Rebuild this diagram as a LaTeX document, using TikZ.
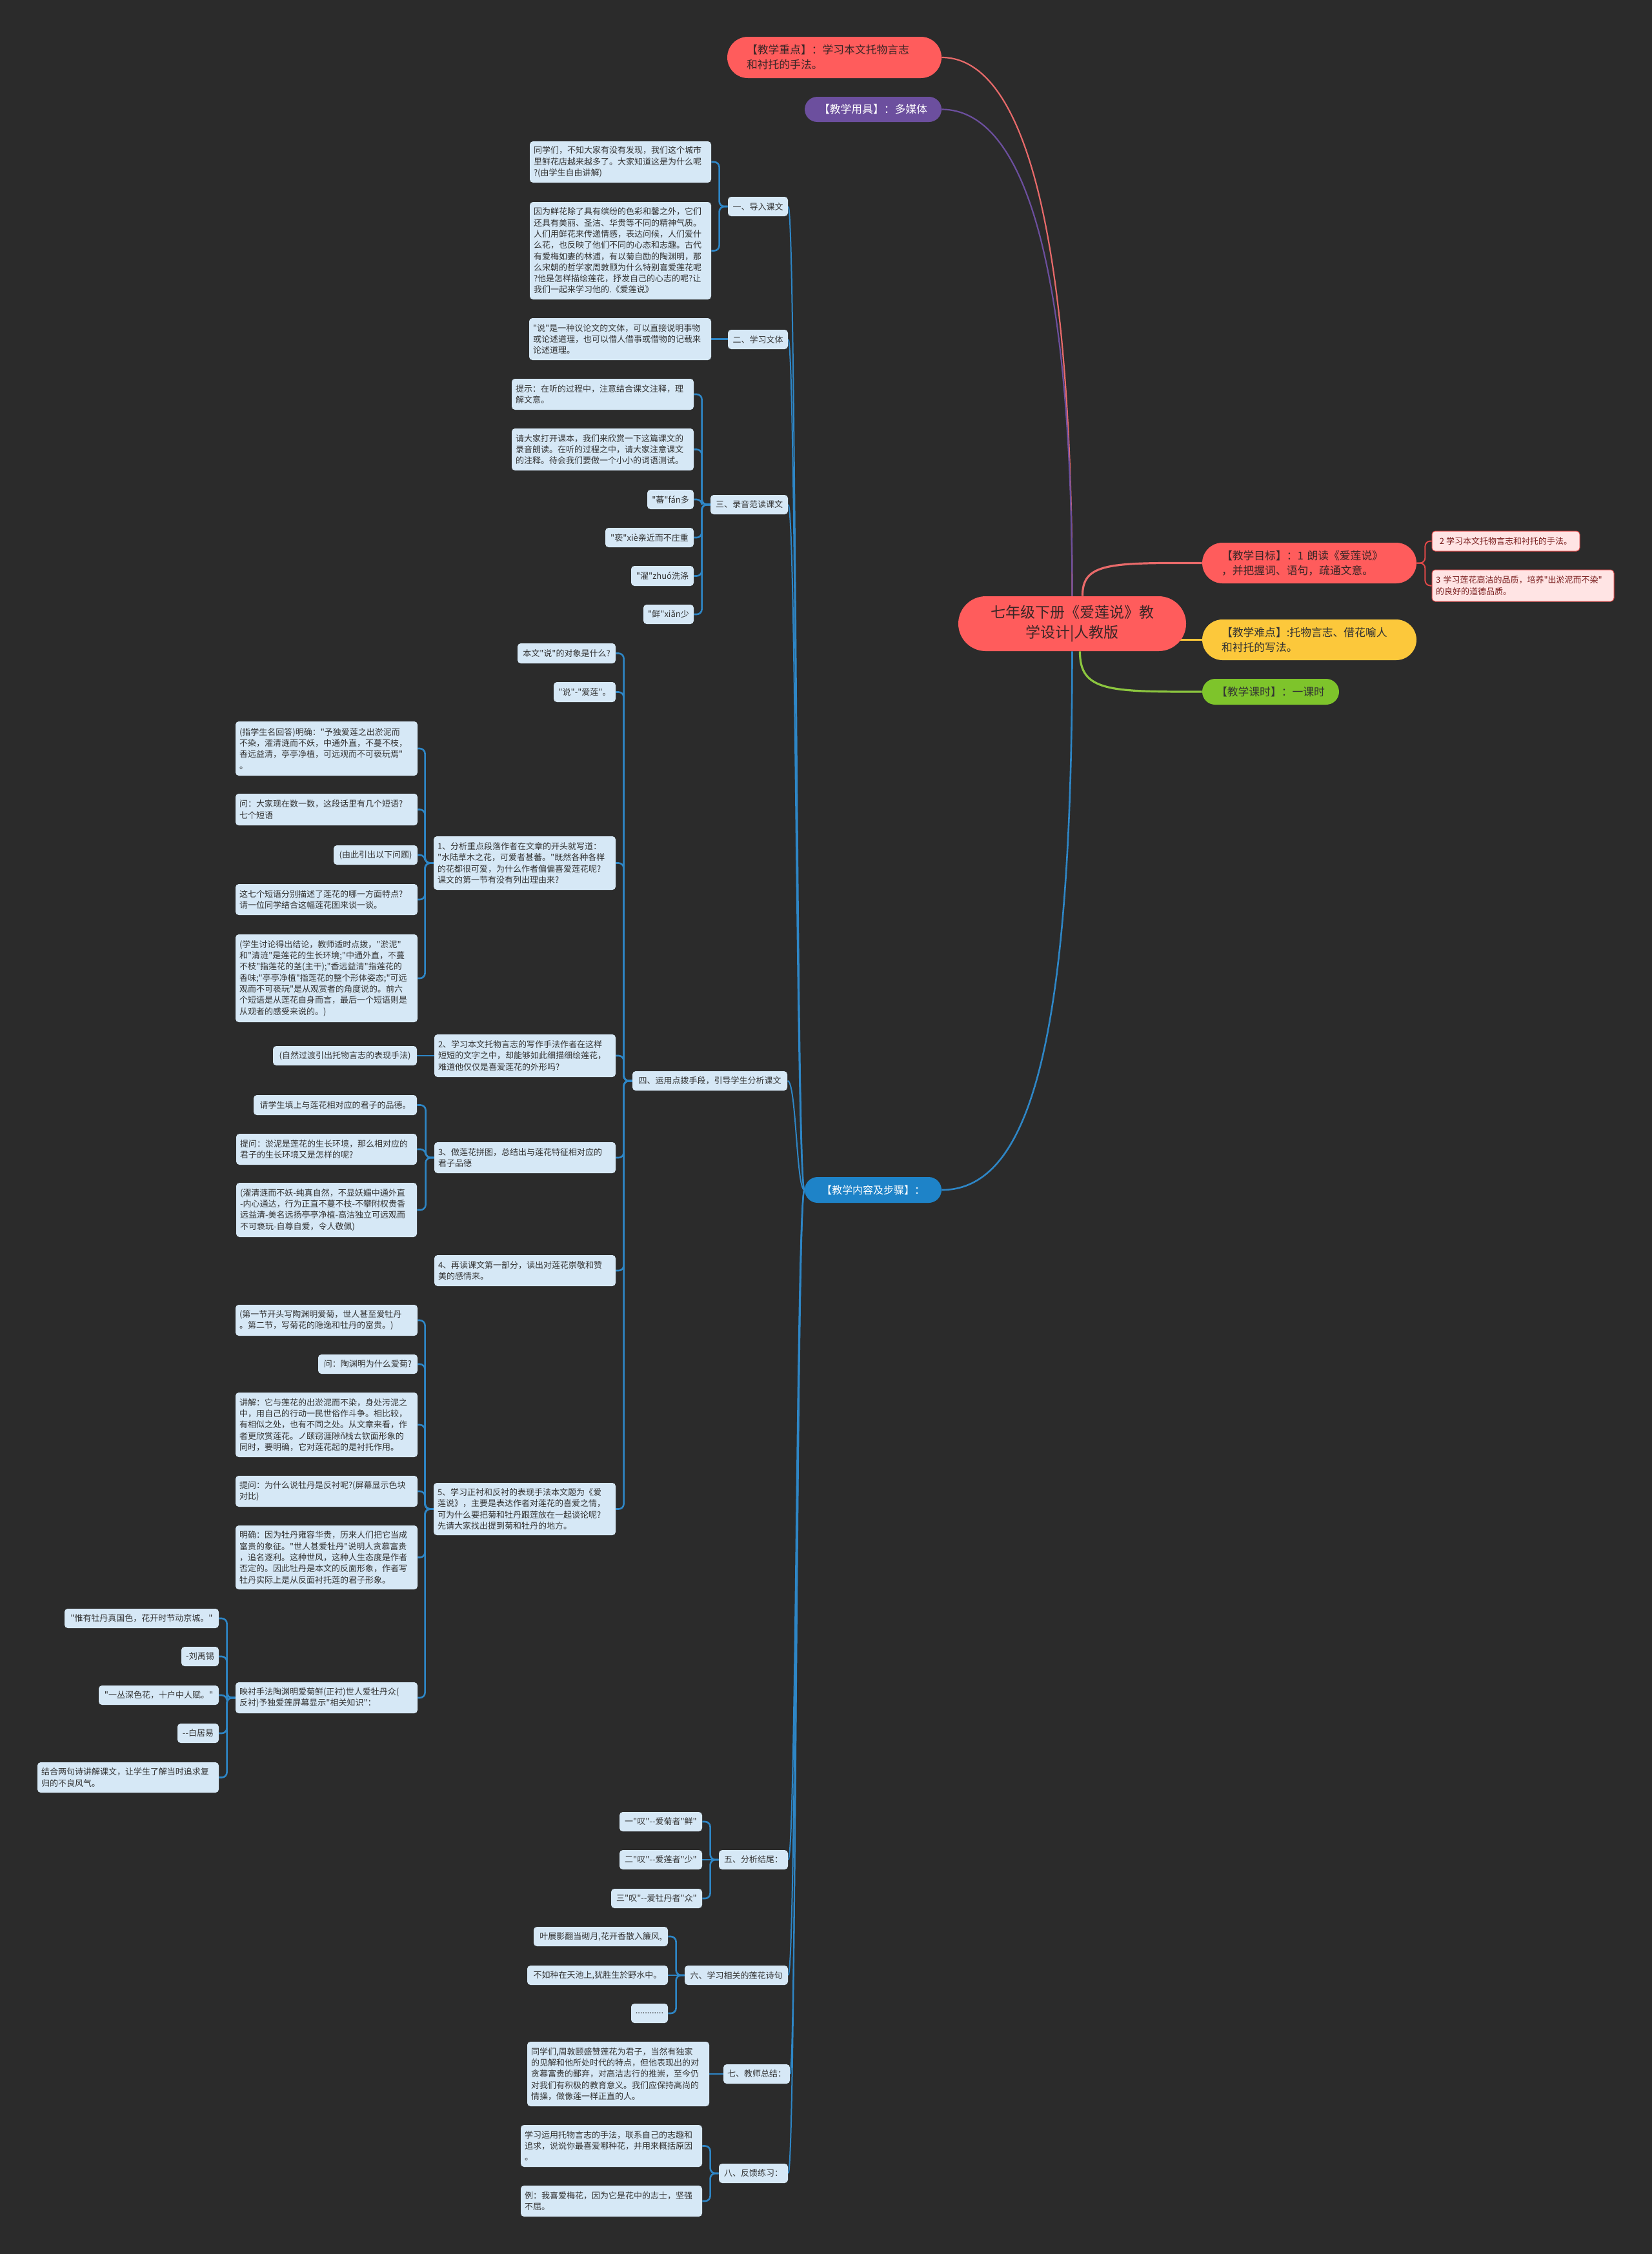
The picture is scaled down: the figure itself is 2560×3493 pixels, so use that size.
\documentclass[tikz,border=0pt]{standalone}
\usepackage{fontspec}
\setmainfont{Noto Sans CJK SC}[Ligatures=TeXOff]
\pgfdeclarelayer{bgl}
\pgfdeclarelayer{lines}
\pgfsetlayers{bgl,lines,main}
\definecolor{bgc}{HTML}{2B2B2B}
\definecolor{lnk}{HTML}{2E86C6}
\definecolor{lbox}{HTML}{D6E8F6}
\definecolor{ltext}{HTML}{333333}
\definecolor{rtxt}{HTML}{3A2626}
\definecolor{redn}{HTML}{FF5C5C}
\definecolor{redl}{HTML}{E86A6A}
\definecolor{purn}{HTML}{6C4F9E}
\definecolor{yeln}{HTML}{FCC83B}
\definecolor{grnn}{HTML}{7EC42B}
\definecolor{grnl}{HTML}{8CC63F}
\definecolor{blun}{HTML}{1E83C8}
\definecolor{pinkn}{HTML}{FFE4E4}
\definecolor{pinkd}{HTML}{E04848}
\definecolor{pinkt}{HTML}{7A1E1E}
\tikzset{
  box/.style={fill=lbox,text=ltext,rounded corners=2.5pt,inner xsep=3pt,inner ysep=0pt,align=left,font=\fontsize{6.5}{8.65}\selectfont},
  pinkbox/.style={fill=pinkn,draw=pinkd,line width=0.5pt,text=pinkt},
  lk/.style={draw=lnk,line width=1.3pt,rounded corners=4pt},
  tkl/.style={draw=lnk,line width=1pt},
  mainfont/.style={font=\fontsize{8.4}{11.5}\selectfont}
}
\newcommand{\lbx}[7][]{%
  \pgfmathsetmacro{\bxw}{(#5-#3)/2}%
  \pgfmathsetmacro{\bxh}{(#6-#4)/2}%
  \pgfmathsetmacro{\bxt}{(#5-#3)/2-6}%
  \node[box,minimum width=\bxw pt,minimum height=\bxh pt,text width=\bxt pt,#1] (#2) at ({(#3+#5)/2},{(#4+#6)/2}) {#7};}
\newcommand{\sbx}[7][]{%
  \pgfmathsetmacro{\bxw}{(#5-#3)/2}%
  \pgfmathsetmacro{\bxh}{(#6-#4)/2}%
  \node[box,minimum width=\bxw pt,minimum height=\bxh pt,#1] (#2) at ({(#3+#5)/2},{(#4+#6)/2}) {#7};}
\newcommand{\mbx}[8][]{%
  \pgfmathsetmacro{\bxw}{(#5-#3)/2}%
  \pgfmathsetmacro{\bxh}{(#6-#4)/2}%
  \pgfmathsetmacro{\bxt}{(#5-#3)/2-2*#7}%
  \pgfmathsetmacro{\bxr}{(#6-#4)/4}%
  \node[minimum width=\bxw pt,minimum height=\bxh pt,text width=\bxt pt,inner xsep=#7pt,inner ysep=0pt,rounded corners=\bxr pt,#1] (#2) at ({(#3+#5)/2},{(#4+#6)/2}) {#8};}
\newcommand{\lkb}[2]{\draw[lk] (#2.east) -| ([xshift=-6.5pt]#1.west) -- (#1.west);}
\begin{document}
\begin{tikzpicture}[x=0.5pt,y=-0.5pt]
\begin{pgfonlayer}{bgl}
\fill[bgc] (0,0) rectangle (2560,3493);
\end{pgfonlayer}
\useasboundingbox (0,0) rectangle (2560,3493);

% main nodes
\mbx[fill=redn,text=rtxt,align=left,mainfont]{zd}{1127}{57}{1459}{121}{15}{【教学重点】：学习本文托物言志\\和衬托的手法。}
\mbx[fill=purn,text=white,align=center,mainfont]{yj}{1247}{150}{1459}{189}{6}{【教学用具】：多媒体}
\mbx[fill=redn,text=rtxt,align=center,font=\fontsize{11.5}{15.5}\selectfont]{root}{1485}{924}{1838}{1009}{10}{七年级下册《爱莲说》教\\学设计|人教版}
\mbx[fill=redn,text=rtxt,align=left,mainfont]{mb}{1863}{841}{2195}{904}{15}{【教学目标】：1 朗读《爱莲说》\\，并把握词、语句，疏通文意。}
\mbx[fill=yeln,text=ltext,align=left,mainfont]{nd}{1863}{960}{2195}{1023}{15}{【教学难点】:托物言志、借花喻人\\和衬托的写法。}
\mbx[fill=grnn,text=ltext,align=center,mainfont]{ks}{1863}{1052}{2075}{1092}{6}{【教学课时】：一课时}
\mbx[fill=blun,text=white,align=center,font=\fontsize{8}{10}\selectfont]{nr}{1247}{1824}{1459}{1864}{6}{【教学内容及步骤】：}
\sbx[pinkbox]{p2}{2219}{823}{2448}{854}{2 学习本文托物言志和衬托的手法。}
\lbx[pinkbox]{p3}{2219}{883}{2501}{932}{3 学习莲花高洁的品质，培养"出淤泥而不染"\\的良好的道德品质。}

% level 1
\sbx{n1}{1128}{305}{1221}{335}{一、导入课文}
\sbx{n2}{1128}{511}{1221}{541}{二、学习文体}
\sbx{n3}{1101}{767}{1221}{797}{三、录音范读课文}
\sbx{n4}{980}{1660}{1220}{1690}{四、运用点拨手段，引导学生分析课文}
\sbx{n5}{1114}{2867}{1221}{2897}{五、分析结尾：}
\sbx{n6}{1061}{3046}{1221}{3076}{六、学习相关的莲花诗句}
\sbx{n7}{1124}{3199}{1221}{3229}{七、教师总结：}
\sbx{n8}{1114}{3353}{1221}{3383}{八、反馈练习：}

% 一
\lbx{n1a}{821}{219}{1102}{283}{同学们，不知大家有没有发现，我们这个城市\\里鲜花店越来越多了。大家知道这是为什么呢\\?(由学生自由讲解)}
\lbx{n1b}{821}{313}{1102}{464}{因为鲜花除了具有缤纷的色彩和馨之外，它们\\还具有美丽、圣洁、华贵等不同的精神气质。\\人们用鲜花来传递情感，表达问候，人们爱什\\么花，也反映了他们不同的心态和志趣。古代\\有爱梅如妻的林逋，有以菊自励的陶渊明，那\\么宋朝的哲学家周敦颐为什么特别喜爱莲花呢\\?他是怎样描绘莲花，抒发自己的心志的呢?让\\我们一起来学习他的.《爱莲说》}
% 二
\lbx{n2a}{820}{493}{1102}{558}{"说"是一种议论文的文体，可以直接说明事物\\或论述道理，也可以借人借事或借物的记载来\\论述道理。}
% 三
\lbx{n3a}{793}{587}{1075}{635}{提示：在听的过程中，注意结合课文注释，理\\解文意。}
\lbx{n3b}{793}{664}{1075}{729}{请大家打开课本，我们来欣赏一下这篇课文的\\录音朗读。在听的过程之中，请大家注意课文\\的注释。待会我们要做一个小小的词语测试。}
\sbx{n3c}{1003}{759}{1075}{789}{"蕃"fán多}
\sbx{n3d}{938}{818}{1075}{848}{"亵"xiè亲近而不庄重}
\sbx{n3e}{978}{877}{1075}{908}{"濯"zhuó洗涤}
\sbx{n3f}{997}{937}{1075}{967}{"鲜"xiǎn少}
% 四
\sbx{n4a}{802}{997}{954}{1028}{本文"说"的对象是什么?}
\sbx{n4b}{858}{1057}{954}{1088}{"说"-"爱莲"。}
\lbx{n41}{672}{1296}{954}{1379}{1、分析重点段落作者在文章的开头就写道：\\"水陆草木之花，可爱者甚蕃。"既然各种各样\\的花都很可爱，为什么作者偏偏喜爱莲花呢?\\课文的第一节有没有列出理由来?}
\lbx{n41a}{365}{1118}{647}{1202}{(指学生名回答)明确："予独爱莲之出淤泥而\\不染，濯清涟而不妖，中通外直，不蔓不枝，\\香远益清，亭亭净植，可远观而不可亵玩焉"\\。}
\lbx{n41b}{365}{1230}{647}{1279}{问：大家现在数一数，这段话里有几个短语?\\七个短语}
\sbx{n41c}{517}{1310}{647}{1340}{(由此引出以下问题)}
\lbx{n41d}{365}{1370}{647}{1418}{这七个短语分别描述了莲花的哪一方面特点?\\请一位同学结合这幅莲花图来谈一谈。}
\lbx{n41e}{365}{1448}{647}{1584}{(学生讨论得出结论，教师适时点拨，"淤泥"\\和"清涟"是莲花的生长环境;"中通外直，不蔓\\不枝"指莲花的茎(主干);"香远益清"指莲花的\\香味;"亭亭净植"指莲花的整个形体姿态;"可远\\观而不可亵玩"是从观赏者的角度说的。前六\\个短语是从莲花自身而言，最后一个短语则是\\从观者的感受来说的。)}
\lbx{n42}{673}{1603}{954}{1669}{2、学习本文托物言志的写作手法作者在这样\\短短的文字之中，却能够如此细描细绘莲花，\\难道他仅仅是喜爱莲花的外形吗?}
\sbx{n42a}{423}{1621}{646}{1651}{(自然过渡引出托物言志的表现手法)}
\lbx{n43}{673}{1770}{954}{1818}{3、做莲花拼图，总结出与莲花特征相对应的\\君子品德}
\sbx{n43a}{393}{1697}{646}{1728}{请学生填上与莲花相对应的君子的品德。}
\lbx{n43b}{366}{1757}{646}{1805}{提问：淤泥是莲花的生长环境，那么相对应的\\君子的生长环境又是怎样的呢?}
\lbx{n43c}{366}{1833}{646}{1917}{(濯清涟而不妖-纯真自然，不显妖媚中通外直\\-内心通达，行为正直不蔓不枝-不攀附权贵香\\远益清-美名远扬亭亭净植-高洁独立可远观而\\不可亵玩-自尊自爱，令人敬佩)}
\lbx{n44}{673}{1945}{954}{1993}{4、再读课文第一部分，读出对莲花崇敬和赞\\美的感情来。}
\lbx{n45}{672}{2298}{954}{2379}{5、学习正衬和反衬的表现手法本文题为《爱\\莲说》，主要是表达作者对莲花的喜爱之情，\\可为什么要把菊和牡丹跟莲放在一起谈论呢?\\先请大家找出提到菊和牡丹的地方。}
\lbx{n45a}{365}{2022}{647}{2070}{(第一节开头写陶渊明爱菊，世人甚至爱牡丹\\。第二节，写菊花的隐逸和牡丹的富贵。)}
\sbx{n45b}{493}{2099}{647}{2129}{问：陶渊明为什么爱菊?}
\lbx{n45c}{365}{2158}{647}{2258}{讲解：它与莲花的出淤泥而不染，身处污泥之\\中，用自己的行动一民世俗作斗争。相比较，\\有相似之处，也有不同之处。从文章来看，作\\者更欣赏莲花。ノ颐窃涯隙ň栈ㄊ钦面形象的\\同时，要明确，它对莲花起的是衬托作用。}
\lbx{n45d}{365}{2287}{647}{2335}{提问：为什么说牡丹是反衬呢?(屏幕显示色块\\对比)}
\lbx{n45e}{365}{2364}{647}{2463}{明确：因为牡丹雍容华贵，历来人们把它当成\\富贵的象征。"世人甚爱牡丹"说明人贪慕富贵\\，追名逐利。这种世风，这种人生态度是作者\\否定的。因此牡丹是本文的反面形象，作者写\\牡丹实际上是从反面衬托莲的君子形象。}
\lbx{n45f}{365}{2607}{647}{2655}{映衬手法陶渊明爱菊鲜(正衬)世人爱牡丹众(\\反衬)予独爱莲屏幕显示"相关知识"：}
\sbx{n45f1}{100}{2493}{339}{2523}{"惟有牡丹真国色，花开时节动京城。"}
\sbx{n45f2}{281}{2552}{339}{2582}{-刘禹锡}
\sbx{n45f3}{153}{2612}{339}{2642}{"一丛深色花，十户中人赋。"}
\sbx{n45f4}{275}{2671}{339}{2701}{-{}-白居易}
\lbx{n45f5}{58}{2731}{339}{2778}{结合两句诗讲解课文，让学生了解当时追求复\\归的不良风气。}
% 五
\sbx{n5a}{960}{2808}{1088}{2838}{一"叹"-{}-爱菊者"鲜"}
\sbx{n5b}{960}{2867}{1088}{2897}{二"叹"-{}-爱莲者"少"}
\sbx{n5c}{947}{2927}{1088}{2957}{三"叹"-{}-爱牡丹者"众"}
% 六
\sbx{n6a}{827}{2986}{1035}{3016}{叶展影翻当砌月,花开香散入簾风,}
\sbx{n6b}{817}{3046}{1035}{3076}{不如种在天池上,犹胜生於野水中。}
\sbx{n6c}{978}{3105}{1035}{3135}{............}
% 七
\lbx{n7a}{817}{3164}{1099}{3264}{同学们,周敦颐盛赞莲花为君子，当然有独家\\的见解和他所处时代的特点，但他表现出的对\\贪慕富贵的鄙弃，对高洁志行的推崇，至今仍\\对我们有积极的教育意义。我们应保持高尚的\\情操，做像莲一样正直的人。}
% 八
\lbx{n8a}{807}{3293}{1088}{3358}{学习运用托物言志的手法，联系自己的志趣和\\追求，说说你最喜爱哪种花，并用来概括原因\\。}
\lbx{n8b}{807}{3387}{1088}{3435}{例：我喜爱梅花，因为它是花中的志士，坚强\\不屈。}

\coordinate (tk) at (1234,1844);

\begin{pgfonlayer}{lines}
% main curves
\draw[redl,line width=1.1pt] (zd.east) .. controls (1560,89) and (1661,260) .. (root.north);
\draw[purn,line width=1.1pt] (yj.east) .. controls (1560,170) and (1661,320) .. (root.north);
\draw[redl,line width=1.6pt] ([xshift=8pt]root.north) .. controls (1677,872) and (1720,872) .. (mb.west);
\draw[yeln,line width=1.6pt] (1820,991.5) -- (nd.west);
\draw[grnl,line width=1.6pt] ([xshift=6pt]root.south) .. controls (1673,1072) and (1720,1072) .. (ks.west);
\draw[lnk,line width=1.3pt] (root.south) .. controls (1661,1600) and (1600,1844) .. (nr.east);
\draw[pinkd,line width=1pt,rounded corners=4pt] (p2.west) -| ([xshift=6.5pt]mb.east) -- (mb.east);
\draw[pinkd,line width=1pt,rounded corners=4pt] (p3.west) -| ([xshift=6.5pt]mb.east) -- (mb.east);
% trunk
\foreach \c in {n1,n2,n3,n4,n5,n6,n7,n8}{
  \draw[tkl] (\c.east) .. controls (\c.east -| tk) and (tk) .. (nr.west);
}
% sub brackets
\lkb{n1}{n1a}\lkb{n1}{n1b}
\draw[lk] (n2a.east) -- (n2a.east -| n2.west);
\lkb{n3}{n3a}\lkb{n3}{n3b}\lkb{n3}{n3c}\lkb{n3}{n3d}\lkb{n3}{n3e}\lkb{n3}{n3f}
\lkb{n4}{n4a}\lkb{n4}{n4b}\lkb{n4}{n41}\lkb{n4}{n42}\lkb{n4}{n43}\lkb{n4}{n44}\lkb{n4}{n45}
\lkb{n41}{n41a}\lkb{n41}{n41b}\lkb{n41}{n41c}\lkb{n41}{n41d}\lkb{n41}{n41e}
\draw[lk] (n42a.east) -- (n42a.east -| n42.west);
\lkb{n43}{n43a}\lkb{n43}{n43b}\lkb{n43}{n43c}
\lkb{n45}{n45a}\lkb{n45}{n45b}\lkb{n45}{n45c}\lkb{n45}{n45d}\lkb{n45}{n45e}\lkb{n45}{n45f}
\lkb{n45f}{n45f1}\lkb{n45f}{n45f2}\lkb{n45f}{n45f3}\lkb{n45f}{n45f4}\lkb{n45f}{n45f5}
\lkb{n5}{n5a}\draw[lk] (n5b.east) -- (n5.west);\lkb{n5}{n5c}
\lkb{n6}{n6a}\draw[lk] (n6b.east) -- (n6.west);\lkb{n6}{n6c}
\draw[lk] (n7a.east) -- (n7a.east -| n7.west);
\lkb{n8}{n8a}\lkb{n8}{n8b}
\end{pgfonlayer}
\end{tikzpicture}
\end{document}
